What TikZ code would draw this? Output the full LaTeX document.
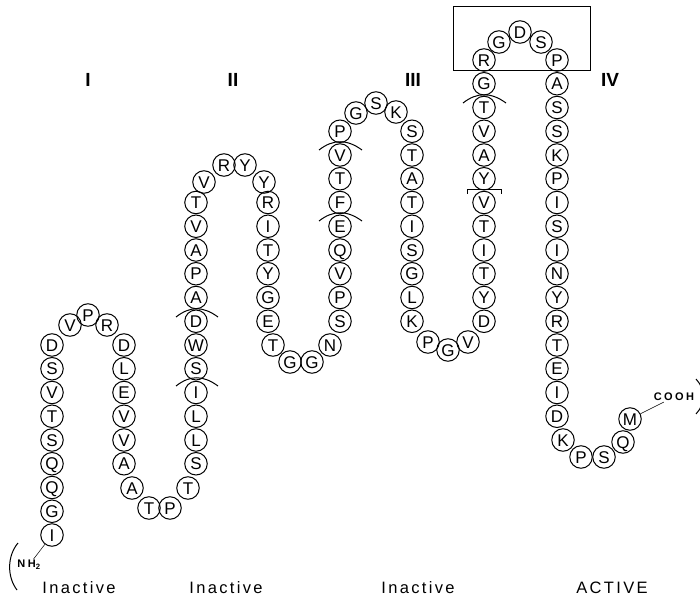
\documentclass[tikz,border=0pt]{standalone}
\usepackage{fontspec}
\setsansfont{Liberation Sans}
\usetikzlibrary{positioning}

\newcommand{\resfont}{\sffamily\fontsize{17}{17}\selectfont}
\newcommand{\domfont}{\sffamily\bfseries\fontsize{19}{19}\selectfont}
\newcommand{\actfont}{\sffamily\fontsize{16.5}{16.5}\selectfont\addfontfeature{LetterSpace=14}}
\newcommand{\termfont}{\sffamily\bfseries\fontsize{11}{11}\selectfont\addfontfeature{LetterSpace=22}}

\begin{document}
\begin{tikzpicture}[x=1pt,y=-1pt]
	\tikzstyle{res}=[draw,circle,line width=1pt,minimum size=22.5pt,inner sep=0pt,text height=12.1pt,text depth=0pt,font=\resfont]
	\tikzstyle{cut}=[line width=1pt]
	\tikzstyle{dom}=[font=\domfont]
	\tikzstyle{act}=[font=\actfont]
	\tikzstyle{term}=[font=\termfont,inner sep=1pt]
	
	\useasboundingbox (0,0) rectangle (700,601);
	
	%
	% strand 1 and first turn
	%
	\foreach \aa [count=\i] in {D,S,V,T,S,Q,Q,G,I}
		\node [res] (s1-\i) at (52,{345+23.75*(\i-1)}) {\aa};
	\node [res] (t1-1) at (70,325) {V};
	\node [res] (t1-2) at (88,315) {P};
	\node [res] (t1-3) at (107,325) {R};
	
	%
	% strand 2 and second turn
	%
	\foreach \aa [count=\i] in {D,L,E,V,V,A}
		\node [res] (s2-\i) at (124,{345+23.75*(\i-1)}) {\aa};
	\node [res] (t2-1) at (132,488) {A};
	\node [res] (t2-2) at (149,508) {T};
	\node [res] (t2-3) at (170,508) {P};
	\node [res] (t2-4) at (188,488) {T};
	
	%
	% strand 3 and third turn
	%
	\foreach \aa [count=\i] in {S,L,L,I,S,W,D,A,P,A,V,T}
		\node [res] (s3-\i) at (196,{463.75-23.75*(\i-1)}) {\aa};
	\node [res] (t3-1) at (204,182) {V};
	\node [res] (t3-2) at (224,165) {R};
	\node [res] (t3-3) at (245,165) {Y};
	\node [res] (t3-4) at (264,182) {Y};
	
	%
	% strand 4 and fourth turn
	%
	\foreach \aa [count=\i] in {R,I,T,Y,G,E}
		\node [res] (s4-\i) at (268,{202.5+23.75*(\i-1)}) {\aa};
	\node [res] (t4-1) at (273,345) {T};
	\node [res] (t4-2) at (290,362) {G};
	\node [res] (t4-3) at (312,362) {G};
	\node [res] (t4-4) at (330,345) {N};
	
	%
	% strand 5 and fifth turn
	%
	\foreach \aa [count=\i] in {S,P,V,Q,E,F,T,V,P}
		\node [res] (s5-\i) at (340,{321.25-23.75*(\i-1)}) {\aa};
	\node [res] (t5-1) at (356,113) {G};
	\node [res] (t5-2) at (376,103) {S};
	\node [res] (t5-3) at (396,112) {K};
	
	%
	% strand 6 and sixth turn
	%
	\foreach \aa [count=\i] in {S,T,A,T,I,S,G,L,K}
		\node [res] (s6-\i) at (412,{131.25+23.75*(\i-1)}) {\aa};
	\node [res] (t6-1) at (428,342) {P};
	\node [res] (t6-2) at (448,350) {G};
	\node [res] (t6-3) at (468,342) {V};
	
	%
	% strand 7 and the RGD turn
	%
	\foreach \aa [count=\i] in {D,Y,T,I,T,V,Y,A,V,T,G,R}
		\node [res] (s7-\i) at (484,{321.25-23.75*(\i-1)}) {\aa};
	\node [res] (t7-1) at (499,42) {G};
	\node [res] (t7-2) at (520,32) {D};
	\node [res] (t7-3) at (541,42) {S};
	\draw [line width=0.9pt] (453,6) rectangle (590,70);
	
	%
	% strand 8 and carboxy end
	%
	\foreach \aa [count=\i] in {P,A,S,S,K,P,I,S,I,N,Y,R,T,E,I,D}
		\node [res] (s8-\i) at (557,{60+23.75*(\i-1)}) {\aa};
	\node [res] (t8-1) at (563,440) {K};
	\node [res] (t8-2) at (581,457) {P};
	\node [res] (t8-3) at (604,457) {S};
	\node [res] (t8-4) at (623,442) {Q};
	\node [res] (t8-5) at (630,419) {M};
	
	%
	% ends of the chain
	%
	\node [term] (nh2) at (29,565) {NH\textsubscript{2}};
	\node [term] (cooh) at (674,397) {COOH};
	\draw [line width=0.5pt] (s1-9) -- (nh2);
	\draw [line width=0.5pt] (t8-5) -- (cooh);
	\draw [line width=1pt] (18,543) .. controls (7,556) and (7,577) .. (17,590);
	\draw [line width=1pt] (696,379) .. controls (706,390) and (706,403) .. (696,414);
	
	%
	% cut marks
	%
	\draw [cut] (176,317) .. controls (190,306) and (203,306) .. (218,317);
	\draw [cut] (176,386) .. controls (190,375) and (203,375) .. (218,386);
	\draw [cut] (319,150) .. controls (333,139) and (347,139) .. (362,150);
	\draw [cut] (319,221) .. controls (333,210) and (347,210) .. (362,221);
	\draw [cut] (463,103) .. controls (477,92) and (491,92) .. (506,103);
	\draw [cut] (467,194) -- (467,190) -- (501,190) -- (501,194);
	
	%
	% domain labels
	%
	\node [dom] (d1) at (88,80) {I};
	\node [dom] (d2) at (233,80) {II};
	\node [dom] (d3) at (413,80) {III};
	\node [dom] (d4) at (610,80) {IV};
	
	\node [act] (a1) at (79,588) {Inactive};
	\node [act] (a2) at (226,588) {Inactive};
	\node [act] (a3) at (418,588) {Inactive};
	\node [act] (a4) at (612,588) {ACTIVE};
	
\end{tikzpicture}
\end{document}
